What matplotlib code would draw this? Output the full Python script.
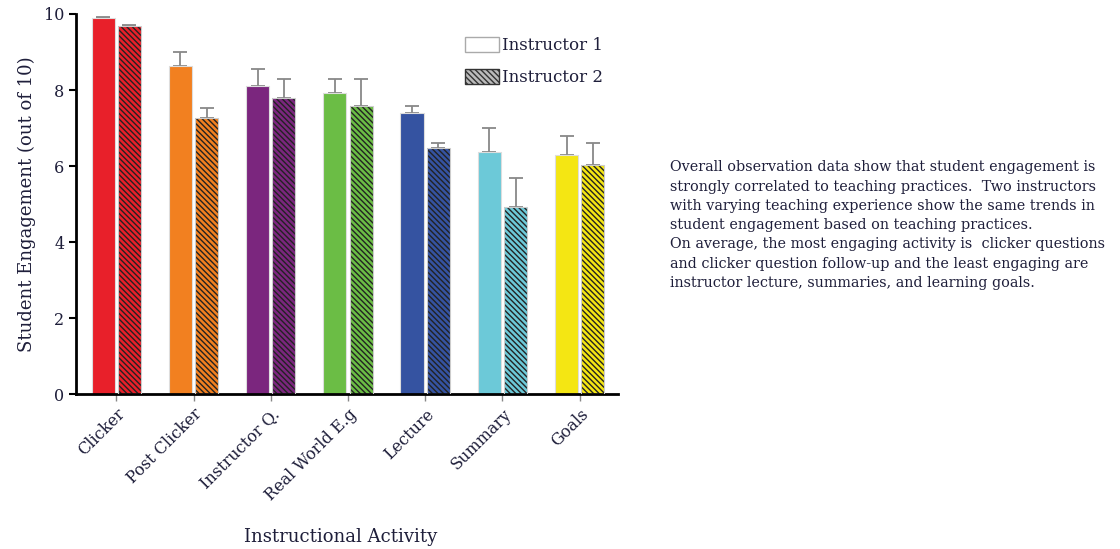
import matplotlib
matplotlib.use("Agg")
import matplotlib.pyplot as plt
import numpy as np
from matplotlib.patches import Patch

categories = ["Clicker", "Post Clicker", "Instructor Q.", "Real World E.g", "Lecture", "Summary", "Goals"]
instructor1 = [9.89, 8.63, 8.11, 7.91, 7.40, 6.36, 6.28]
instructor1_err = [0.03, 0.38, 0.44, 0.39, 0.18, 0.63, 0.51]
instructor2 = [9.68, 7.27, 7.78, 7.59, 6.48, 4.91, 6.03]
instructor2_err = [0.02, 0.25, 0.52, 0.70, 0.12, 0.77, 0.57]
colors = ["#E8202A", "#F28020", "#7B267E", "#6BBD45", "#3553A1", "#6CC9D8", "#F4E613"]

note = ("Overall observation data show that student engagement is\n"
        "strongly correlated to teaching practices.  Two instructors\n"
        "with varying teaching experience show the same trends in\n"
        "student engagement based on teaching practices.\n"
        "On average, the most engaging activity is  clicker questions\n"
        "and clicker question follow-up and the least engaging are\n"
        "instructor lecture, summaries, and learning goals.")

plt.rcParams['font.family'] = ['DejaVu Serif']
plt.rcParams['hatch.linewidth'] = 1.0
txt = "#1e1e3a"
H = "\\" * 6

fig = plt.figure(figsize=(11.2, 5.49), dpi=100)
ax = fig.add_axes([0.068, 0.2823, 0.484, 0.6922])

x = np.arange(len(categories))
w = 0.30
off = 0.17
ax.bar(x - off, instructor1, w, color=colors, edgecolor="#dddddd", linewidth=0.8, zorder=2)
ax.errorbar(x - off, instructor1, yerr=[np.zeros(len(x)), instructor1_err], fmt="none",
            ecolor="#888888", elinewidth=1.3, capsize=5, capthick=1.3, zorder=1)
ax.bar(x + off, instructor2, w, color=colors, edgecolor="#222222", linewidth=0, hatch=H, zorder=2)
ax.errorbar(x + off, instructor2, yerr=[np.zeros(len(x)), instructor2_err], fmt="none",
            ecolor="#888888", elinewidth=1.3, capsize=5, capthick=1.3, zorder=1)
ax.bar(x + off, instructor2, w, fill=False, edgecolor="#cccccc", linewidth=0.8, zorder=3)

ax.set_xlim(-0.52, 6.5)
ax.set_ylim(0, 10)
ax.set_yticks([0, 2, 4, 6, 8, 10])
ax.set_xticks(x)
ax.set_xticklabels(categories, rotation=45, ha="right", rotation_mode="anchor", fontsize=11.5, color=txt)
ax.tick_params(axis="y", labelsize=11.5, labelcolor=txt, width=1.5, length=5)
ax.tick_params(axis="x", width=1, length=5, colors="#888888", labelcolor=txt)
for s in ["top", "right"]:
    ax.spines[s].set_visible(False)
ax.spines["left"].set_linewidth(2)
ax.spines["bottom"].set_linewidth(2)
ax.set_ylabel("Student Engagement (out of 10)", fontsize=13, color=txt, labelpad=6)
fig.text(0.304, 0.022, "Instructional Activity", fontsize=13, color=txt, ha="center", va="center")

handles = [Patch(facecolor="white", edgecolor="#aaaaaa", label="Instructor 1"),
           Patch(facecolor="#bbbbbb", edgecolor="#333333", hatch=H, label="Instructor 2")]
leg = ax.legend(handles=handles, loc="upper left", bbox_to_anchor=(0.69, 0.98), frameon=False,
                fontsize=12, handlelength=2.0, handleheight=1.0, labelspacing=0.9, handletextpad=0.2)
for t in leg.get_texts():
    t.set_color(txt)

fig.text(0.598, 0.708, note, fontsize=10.4, color=txt, va="top", ha="left", linespacing=1.48)

fig.savefig("out.png", dpi=100)
